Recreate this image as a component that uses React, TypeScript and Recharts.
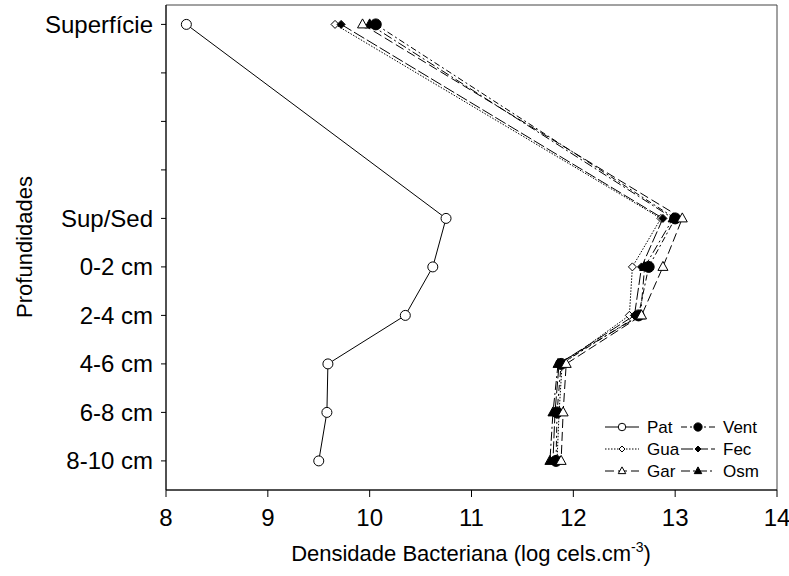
import React from 'react';
import { LineChart, Line, XAxis, YAxis, ReferenceArea } from 'recharts';

// depth positions on the vertical axis (gap between Superfície and Sup/Sed)
const depthPos = [0, 4, 5, 6, 7, 8, 9];
const depthLabels = ['Superfície', 'Sup/Sed', '0-2 cm', '2-4 cm', '4-6 cm', '6-8 cm', '8-10 cm'];
const yTicks = [0, 1, 2, 3, 4, 5, 6, 7, 8, 9];
const xTicks = [8, 9, 10, 11, 12, 13, 14];

const pat = [8.2, 10.75, 10.62, 10.35, 9.59, 9.58, 9.5];
const vent = [10.06, 13.0, 12.74, 12.64, 11.88, 11.84, 11.83];
const gua = [9.66, 12.86, 12.58, 12.55, 11.89, 11.86, 11.84];
const fec = [9.72, 12.88, 12.67, 12.6, 11.86, 11.82, 11.8];
const gar = [9.93, 13.07, 12.88, 12.67, 11.93, 11.9, 11.88];
const osm = [10.0, 12.98, 12.7, 12.66, 11.85, 11.8, 11.77];

const series = [
  { name: 'Pat', values: pat, dash: undefined, marker: 'openCircle' },
  { name: 'Gua', values: gua, dash: '1.5 1.5', marker: 'openDiamond' },
  { name: 'Fec', values: fec, dash: '12 3', marker: 'filledDiamond' },
  { name: 'Vent', values: vent, dash: '6 3 2 3', marker: 'filledCircle' },
  { name: 'Osm', values: osm, dash: '9 3 2 3', marker: 'filledTriangle' },
  { name: 'Gar', values: gar, dash: '9 4', marker: 'openTriangle' },
];

const data = depthPos.map((pos, i) => {
  const row: any = { pos };
  series.forEach((s) => (row[s.name] = s.values[i]));
  return row;
});

const FONT = '"Liberation Sans", Arial, sans-serif';

const marker = (kind: string, cx: number, cy: number, key?: string, k = 1) => {
  switch (kind) {
    case 'openCircle':
      return <circle key={key} cx={cx} cy={cy} r={5 * k} fill="#fff" stroke="#000" strokeWidth={1} />;
    case 'filledCircle':
      return <circle key={key} cx={cx} cy={cy} r={5.5 * k} fill="#000" stroke="#000" />;
    case 'openDiamond':
    case 'filledDiamond':
      return (
        <path
          key={key}
          d={`M${cx},${cy - 4 * k}L${cx + 4 * k},${cy}L${cx},${cy + 4 * k}L${cx - 4 * k},${cy}Z`}
          fill={kind === 'openDiamond' ? '#fff' : '#000'}
          stroke="#000"
          strokeWidth={1}
        />
      );
    default:
      return (
        <path
          key={key}
          d={`M${cx},${cy - 5.5 * k}L${cx + 5 * k},${cy + 3.5 * k}L${cx - 5 * k},${cy + 3.5 * k}Z`}
          fill={kind === 'openTriangle' ? '#fff' : '#000'}
          stroke="#000"
          strokeWidth={1}
        />
      );
  }
};

const legendRows = [
  [series[0], series[3]],
  [series[1], series[2]],
  [series[5], series[4]],
];

const ChartLegend = () => (
  <svg width={190} height={70} style={{ position: 'absolute', left: 600, top: 414 }}>
    {legendRows.map((row, r) =>
      row.map((s, c) => {
        const x0 = c === 0 ? 5 : 81;
        const y = 13 + r * 22;
        return (
          <g key={s.name}>
            <line x1={x0} x2={x0 + 34} y1={y} y2={y} stroke="#000" strokeDasharray={s.dash} />
            {marker(s.marker, x0 + 17, y, undefined, 0.75)}
            <text x={x0 + 42} y={y + 6} fontSize={17} fontFamily={FONT} fill="#000">
              {s.name}
            </text>
          </g>
        );
      })
    )}
  </svg>
);

export default function App() {
  return (
    <div style={{ position: 'absolute', left: 0, top: 0, width: 789, height: 576, background: '#fff' }}>
      <LineChart
        width={789}
        height={576}
        data={data}
        layout="vertical"
        margin={{ top: 5, right: 12, left: 0, bottom: 0 }}
      >
        <ReferenceArea x1={8} x2={14} y1={-0.4} y2={9.6} fill="none" stroke="#444" strokeWidth={1} />
        <XAxis
          type="number"
          domain={[8, 14]}
          ticks={xTicks}
          height={86}
          stroke="#000"
          tickSize={7}
          tickMargin={12}
          tick={{ fill: '#000', fontSize: 24, fontFamily: FONT }}
          label={{
            content: () => (
              <text x={471} y={561} textAnchor="middle" fontSize={22} fontFamily={FONT} fill="#000">
                Densidade Bacteriana (log cels.cm
                <tspan dy={-9} fontSize={14}>-3</tspan>
                <tspan dy={9}>)</tspan>
              </text>
            ),
          }}
        />
        <YAxis
          type="number"
          dataKey="pos"
          domain={[-0.4, 9.6]}
          ticks={yTicks}
          interval={0}
          width={166}
          stroke="#000"
          tickSize={5}
          tickMargin={8}
          tickFormatter={(v: number) => {
            const i = depthPos.indexOf(v);
            return i >= 0 ? depthLabels[i] : '';
          }}
          tick={{ fill: '#000', fontSize: 24, fontFamily: FONT }}
          label={{
            content: () => (
              <text
                x={24}
                y={247}
                transform="rotate(-90 24 247)"
                textAnchor="middle"
                dominantBaseline="central"
                fontSize={22}
                fontFamily={FONT}
                fill="#000"
              >
                Profundidades
              </text>
            ),
          }}
        />
        {series.map((s) => (
          <Line
            key={s.name}
            dataKey={s.name}
            stroke="#000"
            strokeWidth={1}
            strokeDasharray={s.dash}
            isAnimationActive={false}
            dot={(p: any) => marker(s.marker, p.cx, p.cy, `${s.name}-${p.index}`)}
            activeDot={false}
          />
        ))}
      </LineChart>
      <ChartLegend />
    </div>
  );
}
